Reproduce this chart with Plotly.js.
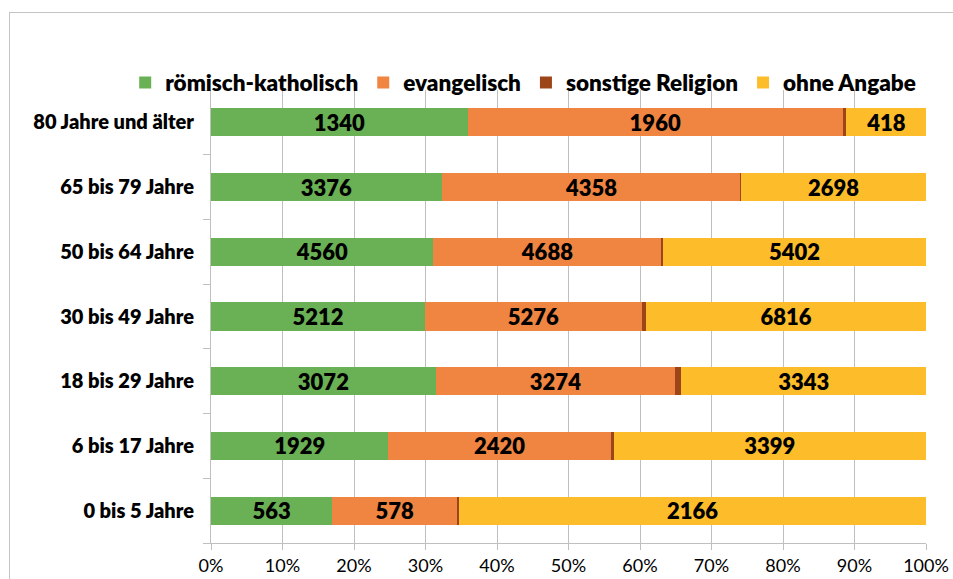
<!DOCTYPE html>
<html>
<head>
<meta charset="utf-8">
<script src="https://cdn.plot.ly/plotly-3.0.1.min.js"></script>
<style>
html,body{margin:0;padding:0;overflow:hidden;background:#fff;}
#chart{width:953px;height:579px;}
#frame{position:absolute;left:9px;top:12px;width:1200px;height:1200px;border:1px solid #c4c4c4;pointer-events:none;}
</style>
</head>
<body>
<div id="chart"></div>
<div id="frame"></div>
<script>
const categories = ["0 bis 5 Jahre","6 bis 17 Jahre","18 bis 29 Jahre","30 bis 49 Jahre","50 bis 64 Jahre","65 bis 79 Jahre","80 Jahre und älter"];
const katholisch = [563, 1929, 3072, 5212, 4560, 3376, 1340];
const evangelisch = [578, 2420, 3274, 5276, 4688, 4358, 1960];
const sonstige = [10, 30, 85, 107, 42, 20, 16];
const ohneAngabe = [2166, 3399, 3343, 6816, 5402, 2698, 418];
const xTicks = [0,10,20,30,40,50,60,70,80,90,100];

const FONT = "Lato, 'Open Sans', sans-serif";
const labelFont = {family: FONT, size: 22, color: "#000", weight: 800};

function tr(name, vals, color, showText) {
  return {
    type: "bar", orientation: "h", name: name,
    y: categories, x: vals,
    marker: {color: color, line: {width: 0}},
    text: showText ? vals.map(String) : null,
    textposition: showText ? "inside" : "none",
    insidetextanchor: "middle",
    constraintext: "none",
    textfont: labelFont,
    insidetextfont: labelFont,
    hoverinfo: "x+y+name"
  };
}

const data = [
  tr("römisch-katholisch", katholisch, "#6AB155", true),
  tr("evangelisch", evangelisch, "#F08441", true),
  tr("sonstige Religion", sonstige, "#9C4518", false),
  tr("ohne Angabe", ohneAngabe, "#FDBD2B", true)
];

const layout = {
  width: 953, height: 579,
  margin: {l: 211, r: 27, t: 90, b: 36},
  barmode: "stack", barnorm: "percent", bargap: 0.565,
  paper_bgcolor: "#fff", plot_bgcolor: "#fff",
  font: {family: FONT, color: "#000"},
  uniformtext: {mode: false},
  showlegend: true,
  legend: {
    orientation: "h", traceorder: "normal",
    x: -0.12, xanchor: "left", y: 1.016, yanchor: "middle",
    font: {family: FONT, size: 22.5, color: "#000", weight: 800},
    itemwidth: 30, tracegroupgap: 0, bgcolor: "rgba(0,0,0,0)"
  },
  xaxis: {
    range: [0, 100], tickvals: xTicks, ticktext: xTicks.map(v => v + "%"),
    showgrid: true, gridcolor: "#bfbfbf", gridwidth: 1,
    showline: true, linecolor: "#bfbfbf", linewidth: 1,
    ticks: "outside", ticklen: 6, tickcolor: "#bfbfbf",
    tickfont: {family: FONT, size: 18, color: "#000"},
    zeroline: false, fixedrange: true
  },
  yaxis: {
    type: "category", categoryarray: categories,
    showline: true, linecolor: "#bfbfbf", linewidth: 1,
    ticks: "outside", ticklen: 7, tickcolor: "#bfbfbf", tickson: "boundaries",
    tickfont: {family: FONT, size: 20, color: "#000", weight: 800},
    ticklabelstandoff: 12,
    showgrid: false, zeroline: false, fixedrange: true
  }
};

Plotly.newPlot("chart", data, layout, {displayModeBar: false, staticPlot: true});
</script>
</body>
</html>
